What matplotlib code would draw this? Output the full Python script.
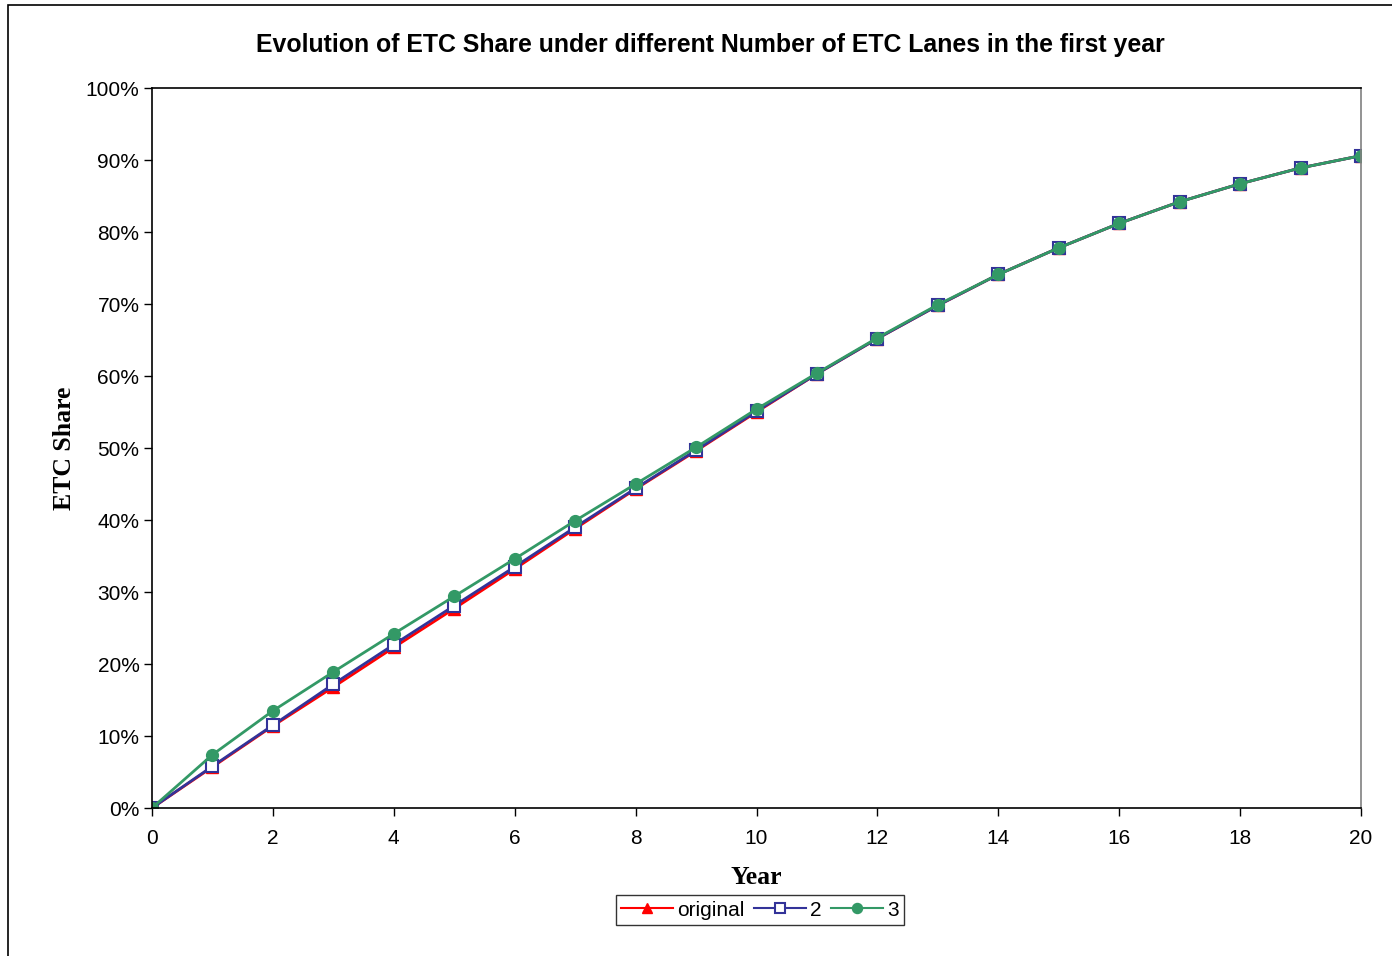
import matplotlib
matplotlib.use("Agg")
from matplotlib import pyplot as plt
from matplotlib.patches import Rectangle
from matplotlib.ticker import PercentFormatter

# ETC share (%) by year for each number of ETC lanes in the first year
years = list(range(21))
share_original = [0, 5.7, 11.4, 16.8, 22.3, 27.7, 33.2, 38.8, 44.3, 49.6, 55.0,
                  60.3, 65.2, 69.8, 74.1, 77.8, 81.2, 84.2, 86.7, 88.9, 90.6]
share_2 = [0, 5.8, 11.5, 17.2, 22.7, 28.1, 33.5, 39.0, 44.4, 49.7, 55.1,
           60.3, 65.2, 69.8, 74.1, 77.8, 81.2, 84.2, 86.7, 88.9, 90.6]
share_3 = [0, 7.4, 13.5, 18.9, 24.2, 29.4, 34.6, 39.9, 45.0, 50.1, 55.4,
           60.4, 65.3, 69.9, 74.1, 77.8, 81.2, 84.2, 86.7, 88.9, 90.6]

W, H = 1392, 956
fig = plt.figure(figsize=[W / 100, H / 100], dpi=100)
ax = fig.add_axes([152 / W, 1 - 808 / H, (1361 - 152) / W, (808 - 88) / H])

sans = "Liberation Sans"
serif = "Liberation Serif"

# outer chart frame, running off the right and bottom edges
fig.patches.append(Rectangle((8 / W, -0.1), 1.2, 1.1 - 5 / H,
                             transform=fig.transFigure, fill=False,
                             edgecolor="black", linewidth=1.2))

ax.plot(years, share_original, color="#FF0000", marker="^", markersize=8,
        linewidth=2, label="original")
ax.plot(years, share_2, color="#333399", marker="s", markersize=8,
        markerfacecolor="white", markeredgewidth=1.5, linewidth=2, label="2")
ax.plot(years, share_3, color="#339966", marker="o", markersize=8.5,
        linewidth=2, label="3")

ax.set_xlim(0, 20)
ax.set_ylim(0, 100)
ax.set_xticks(range(0, 21, 2))
ax.set_yticks(range(0, 101, 10))
ax.yaxis.set_major_formatter(PercentFormatter(decimals=0))
ax.tick_params(direction="out", length=6, width=1, labelsize=15)
ax.tick_params(axis="x", pad=9)
ax.tick_params(axis="y", pad=3)
for lbl in ax.get_xticklabels() + ax.get_yticklabels():
    lbl.set_family(sans)

for side in ["left", "bottom", "top"]:
    ax.spines[side].set_color("black")
ax.spines["right"].set_color("#808080")
for sp in ax.spines.values():
    sp.set_linewidth(1.2)

ax.set_xlabel("Year", family=serif, weight="bold", fontsize=18.5, labelpad=13)
ax.set_ylabel("ETC Share", family=serif, weight="bold", fontsize=18.5, labelpad=7)

fig.text(710 / W, 1 - 45 / H,
         "Evolution of ETC Share under different Number of ETC Lanes in the first year",
         ha="center", va="center", family=sans, weight="bold", fontsize=17.9)

leg = fig.legend(loc="center", bbox_to_anchor=(760 / W, 1 - 910 / H), ncol=3,
                 frameon=True, fancybox=False, prop={"family": sans, "size": 15},
                 handlelength=2.5, handletextpad=0.2, columnspacing=0.45,
                 borderpad=0.25, borderaxespad=0, markerscale=0.85)
leg.get_frame().set_edgecolor("black")
leg.get_frame().set_linewidth(1.0)
for line in leg.get_lines():
    line.set_linewidth(1.5)

fig.savefig("out.png", dpi=100)
